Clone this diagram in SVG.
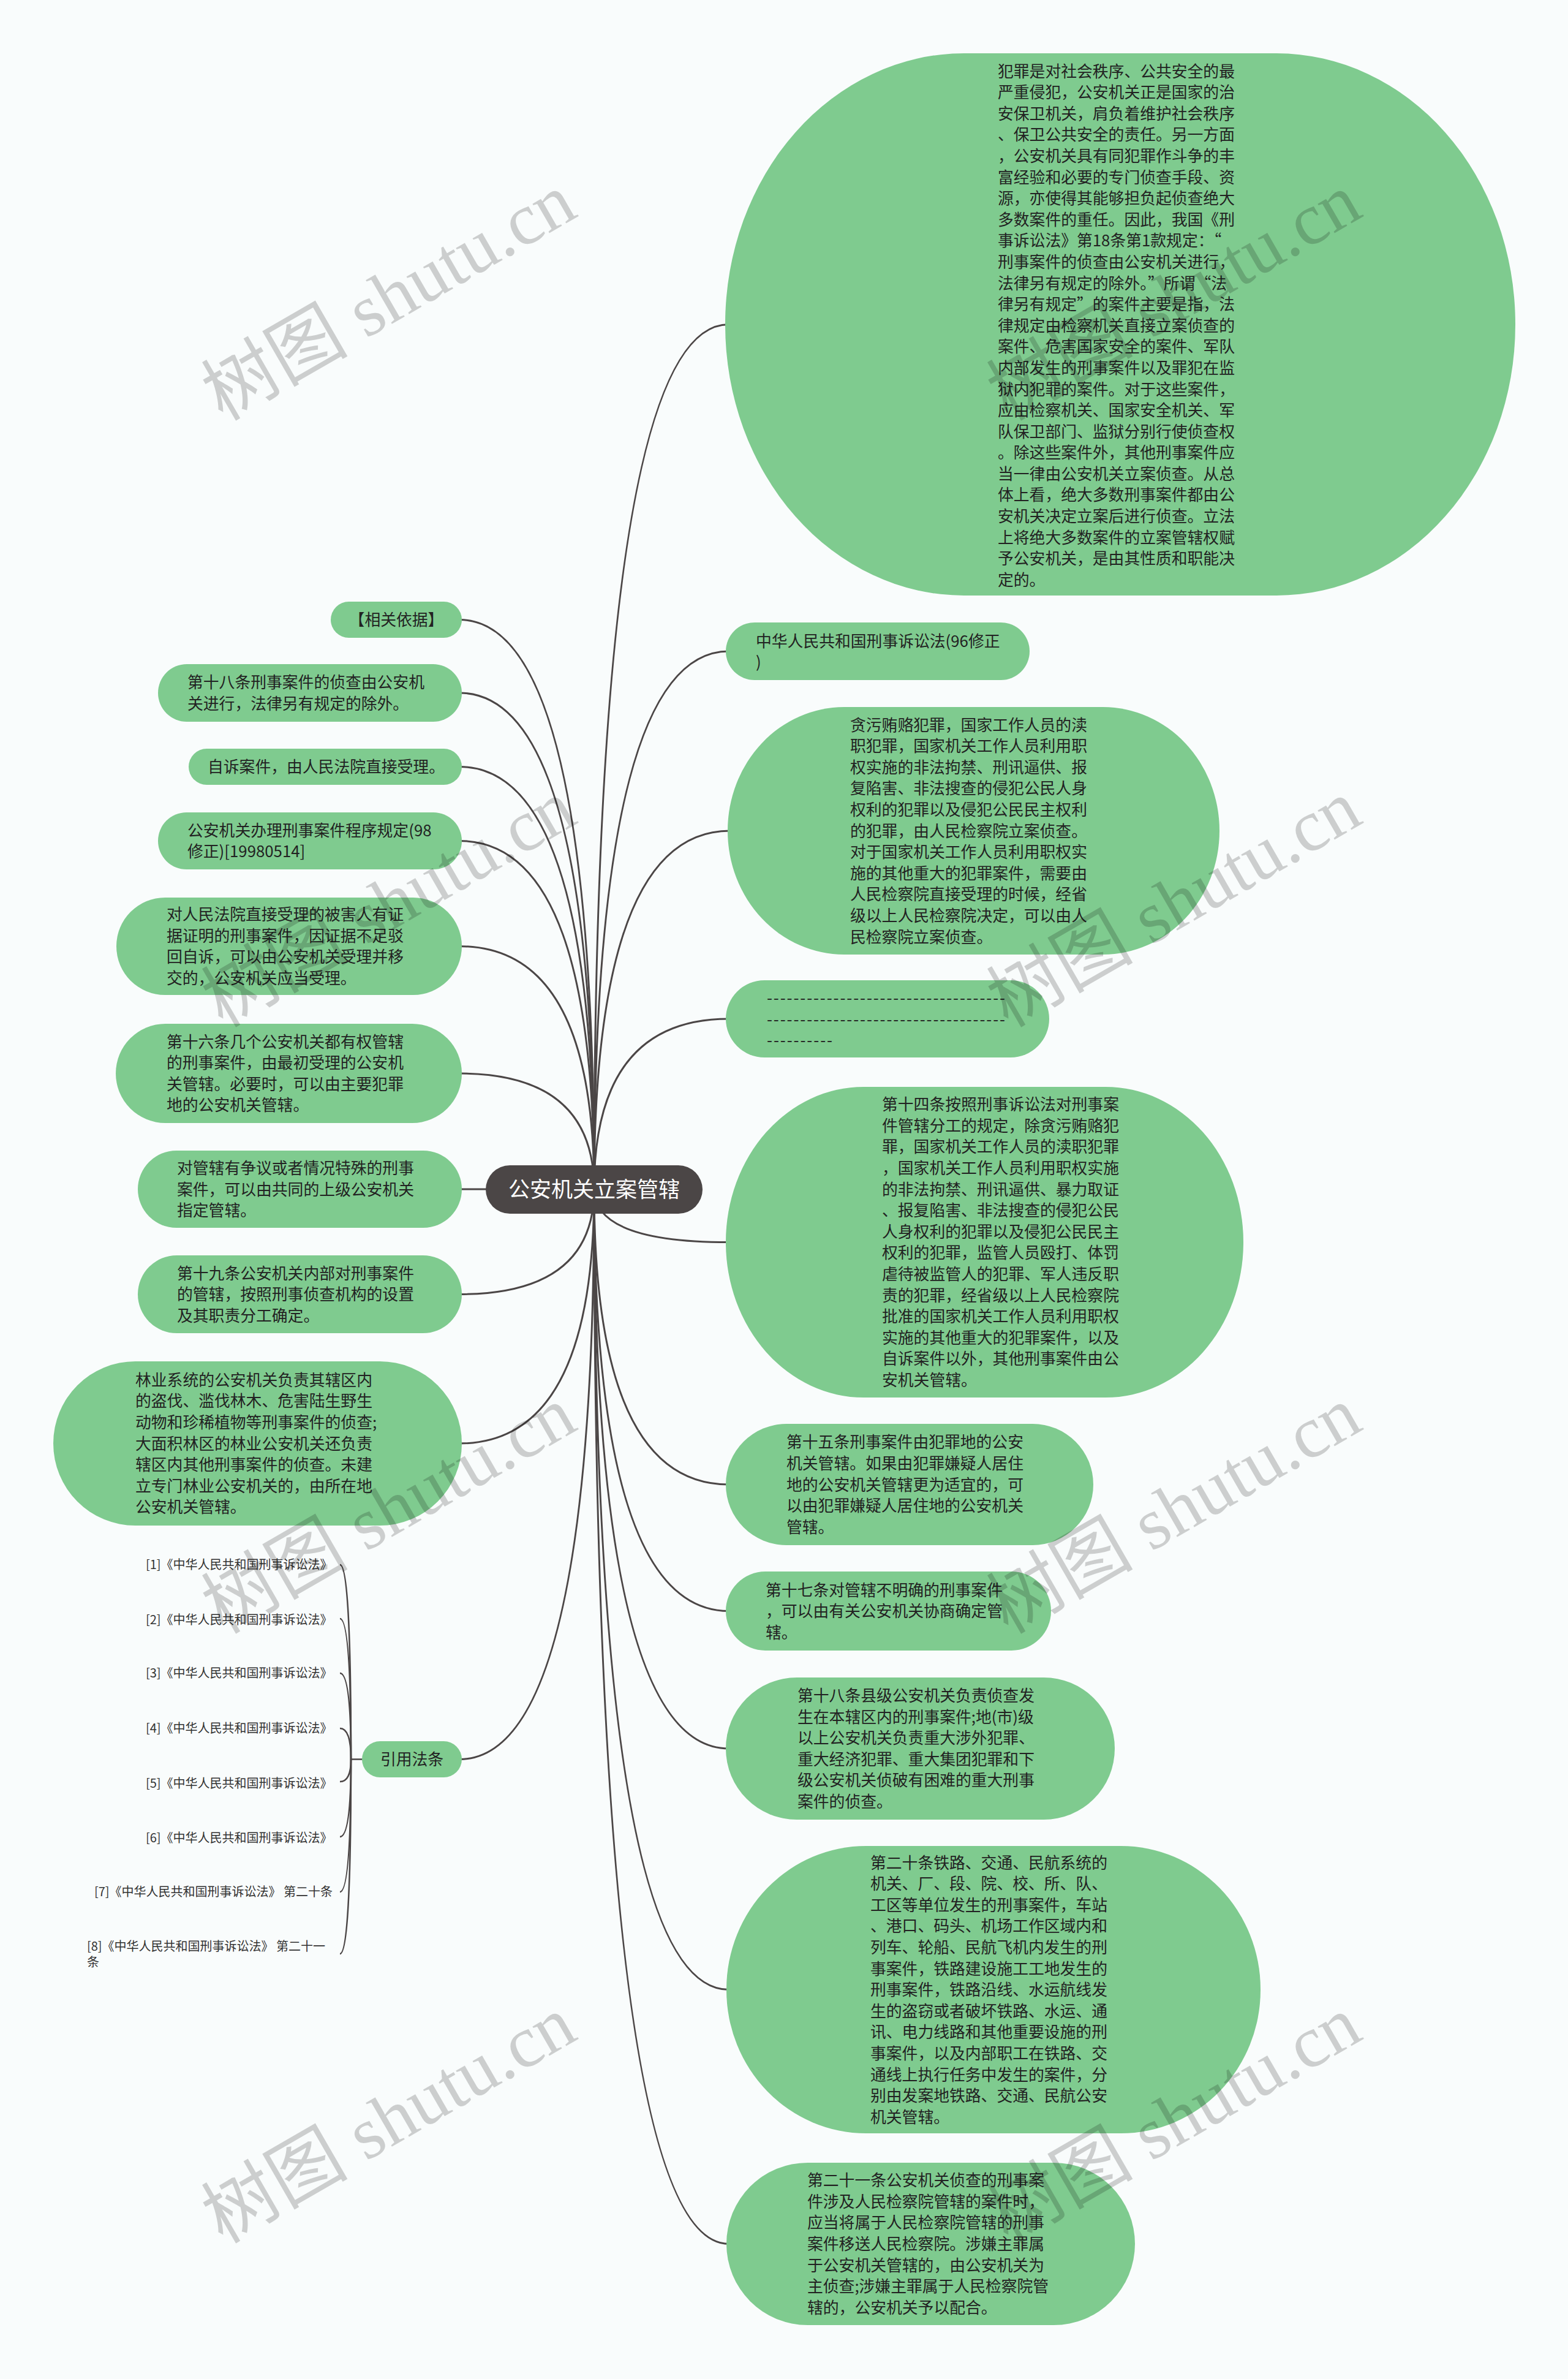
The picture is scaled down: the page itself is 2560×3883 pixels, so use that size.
<svg xmlns="http://www.w3.org/2000/svg" width="2560" height="3883" viewBox="0 0 2560 3883">
<style>
.bg{fill:#f9fcfc}
.n{fill:#7fcb8f}
.root{fill:#4b4646}
.t{font-family:"Noto Sans CJK SC","Noto Sans",sans-serif;font-size:25.8px;fill:#222}
.tc{font-family:"Noto Sans CJK SC","Noto Sans",sans-serif;font-size:25.8px;fill:#222;text-anchor:middle}
.tr{font-family:"Noto Sans CJK SC","Noto Sans",sans-serif;font-size:35px;fill:#ffffff;text-anchor:middle}
.ts{font-family:"Noto Sans CJK SC","Noto Sans",sans-serif;font-size:20px;fill:#333}
.c{fill:none;stroke:#4b4646;stroke-width:3}
.c2{fill:none;stroke:#4b4646;stroke-width:2.5}
.wm{font-family:"Liberation Serif","Noto Sans CJK SC",serif;font-size:120px;fill:#000;fill-opacity:0.18;text-anchor:middle}
</style>
<rect class="bg" x="0" y="0" width="2560" height="3883"/>
<g id="connectors">
<path class="c" d="M970,1941 Q970,529.5 1190,529.5"/>
<path class="c" d="M970,1941 Q970,1063 1190,1063"/>
<path class="c" d="M970,1941 Q970,1356 1192,1356"/>
<path class="c" d="M970,1941 Q970,1663 1190,1663"/>
<path class="c" d="M970,1941 Q970,2027.5 1190,2027.5"/>
<path class="c" d="M970,1941 Q970,2423 1190,2423"/>
<path class="c" d="M970,1941 Q970,2629.5 1190,2629.5"/>
<path class="c" d="M970,1941 Q970,2854 1190,2854"/>
<path class="c" d="M970,1941 Q970,3247.5 1190,3247.5"/>
<path class="c" d="M970,1941 Q970,3662.5 1190,3662.5"/>
<path class="c" d="M970,1941 Q970,1011.5 750,1011.5"/>
<path class="c" d="M970,1941 Q970,1131 750,1131"/>
<path class="c" d="M970,1941 Q970,1251.5 750,1251.5"/>
<path class="c" d="M970,1941 Q970,1372.5 750,1372.5"/>
<path class="c" d="M970,1941 Q970,1544.5 750,1544.5"/>
<path class="c" d="M970,1941 Q970,1752 750,1752"/>
<path class="c" d="M970,1941 L750,1941"/>
<path class="c" d="M970,1941 Q970,2112.5 750,2112.5"/>
<path class="c" d="M970,1941 Q970,2356 750,2356"/>
<path class="c" d="M970,1941 Q970,2871.5 750,2871.5"/>
<path class="c2" d="M595,2871.5 L573,2871.5 Q573,2554 555,2554"/>
<path class="c2" d="M573,2871.5 Q573,2642 555,2642"/>
<path class="c2" d="M573,2871.5 Q573,2731 555,2731"/>
<path class="c2" d="M573,2871.5 Q573,2821 555,2821"/>
<path class="c2" d="M573,2871.5 Q573,2908 555,2908"/>
<path class="c2" d="M573,2871.5 Q573,2998 555,2998"/>
<path class="c2" d="M573,2871.5 Q573,3088 555,3088"/>
<path class="c2" d="M573,2871.5 Q573,3189 555,3189"/>
</g>
<g id="root">
<rect class="root" x="793" y="1902" width="354" height="79" rx="39.5"/>
<text class="tr" x="970" y="1954">公安机关立案管辖</text>
</g>
<g id="r1">
<rect class="n" x="1184" y="87" width="1290" height="885" rx="390" ry="442"/>
<text class="t"><tspan x="1629" y="125.5">犯罪是对社会秩序、公共安全的最</tspan><tspan x="1629" dy="34.6">严重侵犯，公安机关正是国家的治</tspan><tspan x="1629" dy="34.6">安保卫机关，肩负着维护社会秩序</tspan><tspan x="1629" dy="34.6">、保卫公共安全的责任。另一方面</tspan><tspan x="1629" dy="34.6">，公安机关具有同犯罪作斗争的丰</tspan><tspan x="1629" dy="34.6">富经验和必要的专门侦查手段、资</tspan><tspan x="1629" dy="34.6">源，亦使得其能够担负起侦查绝大</tspan><tspan x="1629" dy="34.6">多数案件的重任。因此，我国《刑</tspan><tspan x="1629" dy="34.6">事诉讼法》第18条第1款规定：“</tspan><tspan x="1629" dy="34.6">刑事案件的侦查由公安机关进行，</tspan><tspan x="1629" dy="34.6">法律另有规定的除外。”所谓“法</tspan><tspan x="1629" dy="34.6">律另有规定”的案件主要是指，法</tspan><tspan x="1629" dy="34.6">律规定由检察机关直接立案侦查的</tspan><tspan x="1629" dy="34.6">案件、危害国家安全的案件、军队</tspan><tspan x="1629" dy="34.6">内部发生的刑事案件以及罪犯在监</tspan><tspan x="1629" dy="34.6">狱内犯罪的案件。对于这些案件，</tspan><tspan x="1629" dy="34.6">应由检察机关、国家安全机关、军</tspan><tspan x="1629" dy="34.6">队保卫部门、监狱分别行使侦查权</tspan><tspan x="1629" dy="34.6">。除这些案件外，其他刑事案件应</tspan><tspan x="1629" dy="34.6">当一律由公安机关立案侦查。从总</tspan><tspan x="1629" dy="34.6">体上看，绝大多数刑事案件都由公</tspan><tspan x="1629" dy="34.6">安机关决定立案后进行侦查。立法</tspan><tspan x="1629" dy="34.6">上将绝大多数案件的立案管辖权赋</tspan><tspan x="1629" dy="34.6">予公安机关，是由其性质和职能决</tspan><tspan x="1629" dy="34.6">定的。</tspan></text>
</g>
<g id="r2">
<rect class="n" x="1185" y="1016" width="496" height="94" rx="47"/>
<text class="t"><tspan x="1234" y="1055.5">中华人民共和国刑事诉讼法(96修正</tspan><tspan x="1234" dy="34.6">)</tspan></text>
</g>
<g id="r3">
<rect class="n" x="1188" y="1154" width="803" height="404" rx="190" ry="202"/>
<text class="t"><tspan x="1388" y="1192.5">贪污贿赂犯罪，国家工作人员的渎</tspan><tspan x="1388" dy="34.6">职犯罪，国家机关工作人员利用职</tspan><tspan x="1388" dy="34.6">权实施的非法拘禁、刑讯逼供、报</tspan><tspan x="1388" dy="34.6">复陷害、非法搜查的侵犯公民人身</tspan><tspan x="1388" dy="34.6">权利的犯罪以及侵犯公民民主权利</tspan><tspan x="1388" dy="34.6">的犯罪，由人民检察院立案侦查。</tspan><tspan x="1388" dy="34.6">对于国家机关工作人员利用职权实</tspan><tspan x="1388" dy="34.6">施的其他重大的犯罪案件，需要由</tspan><tspan x="1388" dy="34.6">人民检察院直接受理的时候，经省</tspan><tspan x="1388" dy="34.6">级以上人民检察院决定，可以由人</tspan><tspan x="1388" dy="34.6">民检察院立案侦查。</tspan></text>
</g>
<g id="r4">
<rect class="n" x="1185" y="1600" width="528" height="126" rx="63"/>
<text class="t"><tspan x="1252" y="1638" textLength="389" lengthAdjust="spacing">------------------------------------</tspan><tspan x="1252" y="1672.6" textLength="389" lengthAdjust="spacing">------------------------------------</tspan><tspan x="1252" y="1707.2" textLength="107" lengthAdjust="spacing">----------</tspan></text>
</g>
<g id="r5">
<rect class="n" x="1185" y="1774" width="845" height="507" rx="225" ry="253"/>
<text class="t"><tspan x="1440" y="1812.1">第十四条按照刑事诉讼法对刑事案</tspan><tspan x="1440" dy="34.6">件管辖分工的规定，除贪污贿赂犯</tspan><tspan x="1440" dy="34.6">罪，国家机关工作人员的渎职犯罪</tspan><tspan x="1440" dy="34.6">，国家机关工作人员利用职权实施</tspan><tspan x="1440" dy="34.6">的非法拘禁、刑讯逼供、暴力取证</tspan><tspan x="1440" dy="34.6">、报复陷害、非法搜查的侵犯公民</tspan><tspan x="1440" dy="34.6">人身权利的犯罪以及侵犯公民民主</tspan><tspan x="1440" dy="34.6">权利的犯罪，监管人员殴打、体罚</tspan><tspan x="1440" dy="34.6">虐待被监管人的犯罪、军人违反职</tspan><tspan x="1440" dy="34.6">责的犯罪，经省级以上人民检察院</tspan><tspan x="1440" dy="34.6">批准的国家机关工作人员利用职权</tspan><tspan x="1440" dy="34.6">实施的其他重大的犯罪案件，以及</tspan><tspan x="1440" dy="34.6">自诉案件以外，其他刑事案件由公</tspan><tspan x="1440" dy="34.6">安机关管辖。</tspan></text>
</g>
<g id="r6">
<rect class="n" x="1185" y="2324" width="600" height="198" rx="99"/>
<text class="t"><tspan x="1284" y="2363.3">第十五条刑事案件由犯罪地的公安</tspan><tspan x="1284" dy="34.6">机关管辖。如果由犯罪嫌疑人居住</tspan><tspan x="1284" dy="34.6">地的公安机关管辖更为适宜的，可</tspan><tspan x="1284" dy="34.6">以由犯罪嫌疑人居住地的公安机关</tspan><tspan x="1284" dy="34.6">管辖。</tspan></text>
</g>
<g id="r7">
<rect class="n" x="1185" y="2565" width="531" height="129" rx="64.5"/>
<text class="t"><tspan x="1250" y="2604.5">第十七条对管辖不明确的刑事案件</tspan><tspan x="1250" dy="34.6">，可以由有关公安机关协商确定管</tspan><tspan x="1250" dy="34.6">辖。</tspan></text>
</g>
<g id="r8">
<rect class="n" x="1185" y="2738" width="635" height="232" rx="116"/>
<text class="t"><tspan x="1302" y="2777">第十八条县级公安机关负责侦查发</tspan><tspan x="1302" dy="34.6">生在本辖区内的刑事案件;地(市)级</tspan><tspan x="1302" dy="34.6">以上公安机关负责重大涉外犯罪、</tspan><tspan x="1302" dy="34.6">重大经济犯罪、重大集团犯罪和下</tspan><tspan x="1302" dy="34.6">级公安机关侦破有困难的重大刑事</tspan><tspan x="1302" dy="34.6">案件的侦查。</tspan></text>
</g>
<g id="r9">
<rect class="n" x="1186" y="3013" width="872" height="469" rx="228" ry="234"/>
<text class="t"><tspan x="1421" y="3049.5">第二十条铁路、交通、民航系统的</tspan><tspan x="1421" dy="34.6">机关、厂、段、院、校、所、队、</tspan><tspan x="1421" dy="34.6">工区等单位发生的刑事案件，车站</tspan><tspan x="1421" dy="34.6">、港口、码头、机场工作区域内和</tspan><tspan x="1421" dy="34.6">列车、轮船、民航飞机内发生的刑</tspan><tspan x="1421" dy="34.6">事案件，铁路建设施工工地发生的</tspan><tspan x="1421" dy="34.6">刑事案件，铁路沿线、水运航线发</tspan><tspan x="1421" dy="34.6">生的盗窃或者破坏铁路、水运、通</tspan><tspan x="1421" dy="34.6">讯、电力线路和其他重要设施的刑</tspan><tspan x="1421" dy="34.6">事案件，以及内部职工在铁路、交</tspan><tspan x="1421" dy="34.6">通线上执行任务中发生的案件，分</tspan><tspan x="1421" dy="34.6">别由发案地铁路、交通、民航公安</tspan><tspan x="1421" dy="34.6">机关管辖。</tspan></text>
</g>
<g id="r10">
<rect class="n" x="1186" y="3530" width="667" height="265" rx="132.5"/>
<text class="t"><tspan x="1318" y="3568.2">第二十一条公安机关侦查的刑事案</tspan><tspan x="1318" dy="34.6">件涉及人民检察院管辖的案件时，</tspan><tspan x="1318" dy="34.6">应当将属于人民检察院管辖的刑事</tspan><tspan x="1318" dy="34.6">案件移送人民检察院。涉嫌主罪属</tspan><tspan x="1318" dy="34.6">于公安机关管辖的，由公安机关为</tspan><tspan x="1318" dy="34.6">主侦查;涉嫌主罪属于人民检察院管</tspan><tspan x="1318" dy="34.6">辖的，公安机关予以配合。</tspan></text>
</g>
<g id="l1">
<rect class="n" x="540" y="982" width="214" height="59" rx="29.5"/>
<text class="tc" x="647" y="1021">【相关依据】</text>
</g>
<g id="l2">
<rect class="n" x="258" y="1084" width="496" height="94" rx="47"/>
<text class="t"><tspan x="306" y="1123.2">第十八条刑事案件的侦查由公安机</tspan><tspan x="306" dy="34.6">关进行，法律另有规定的除外。</tspan></text>
</g>
<g id="l3">
<rect class="n" x="308" y="1222" width="446" height="59" rx="29.5"/>
<text class="t" x="339" y="1261">自诉案件，由人民法院直接受理。</text>
</g>
<g id="l4">
<rect class="n" x="258" y="1326" width="496" height="93" rx="46.5"/>
<text class="t"><tspan x="306" y="1364.7">公安机关办理刑事案件程序规定(98</tspan><tspan x="306" dy="34.6">修正)[19980514]</tspan></text>
</g>
<g id="l5">
<rect class="n" x="190" y="1465" width="564" height="159" rx="79.5"/>
<text class="t"><tspan x="272" y="1502.1">对人民法院直接受理的被害人有证</tspan><tspan x="272" dy="34.6">据证明的刑事案件，因证据不足驳</tspan><tspan x="272" dy="34.6">回自诉，可以由公安机关受理并移</tspan><tspan x="272" dy="34.6">交的，公安机关应当受理。</tspan></text>
</g>
<g id="l6">
<rect class="n" x="189" y="1671" width="565" height="162" rx="81"/>
<text class="t"><tspan x="272" y="1709.5">第十六条几个公安机关都有权管辖</tspan><tspan x="272" dy="34.6">的刑事案件，由最初受理的公安机</tspan><tspan x="272" dy="34.6">关管辖。必要时，可以由主要犯罪</tspan><tspan x="272" dy="34.6">地的公安机关管辖。</tspan></text>
</g>
<g id="l7">
<rect class="n" x="225" y="1878" width="529" height="126" rx="63"/>
<text class="t"><tspan x="289" y="1915.9">对管辖有争议或者情况特殊的刑事</tspan><tspan x="289" dy="34.6">案件，可以由共同的上级公安机关</tspan><tspan x="289" dy="34.6">指定管辖。</tspan></text>
</g>
<g id="l8">
<rect class="n" x="225" y="2049" width="529" height="127" rx="63.5"/>
<text class="t"><tspan x="289" y="2087.5">第十九条公安机关内部对刑事案件</tspan><tspan x="289" dy="34.6">的管辖，按照刑事侦查机构的设置</tspan><tspan x="289" dy="34.6">及其职责分工确定。</tspan></text>
</g>
<g id="l9">
<rect class="n" x="87" y="2222" width="667" height="268" rx="134"/>
<text class="t"><tspan x="221" y="2261.7">林业系统的公安机关负责其辖区内</tspan><tspan x="221" dy="34.6">的盗伐、滥伐林木、危害陆生野生</tspan><tspan x="221" dy="34.6">动物和珍稀植物等刑事案件的侦查;</tspan><tspan x="221" dy="34.6">大面积林区的林业公安机关还负责</tspan><tspan x="221" dy="34.6">辖区内其他刑事案件的侦查。未建</tspan><tspan x="221" dy="34.6">立专门林业公安机关的，由所在地</tspan><tspan x="221" dy="34.6">公安机关管辖。</tspan></text>
</g>
<g id="l10">
<rect class="n" x="591" y="2842" width="163" height="59" rx="29.5"/>
<text class="tc" x="672.5" y="2881">引用法条</text>
</g>
<g id="cite1"><text class="ts" x="238" y="2561.4">[1]《中华人民共和国刑事诉讼法》</text></g>
<g id="cite2"><text class="ts" x="238" y="2651.4">[2]《中华人民共和国刑事诉讼法》</text></g>
<g id="cite3"><text class="ts" x="238" y="2738.4">[3]《中华人民共和国刑事诉讼法》</text></g>
<g id="cite4"><text class="ts" x="238" y="2828.4">[4]《中华人民共和国刑事诉讼法》</text></g>
<g id="cite5"><text class="ts" x="238" y="2918.4">[5]《中华人民共和国刑事诉讼法》</text></g>
<g id="cite6"><text class="ts" x="238" y="3007.4">[6]《中华人民共和国刑事诉讼法》</text></g>
<g id="cite7"><text class="ts" x="154" y="3095.4">[7]《中华人民共和国刑事诉讼法》 第二十条</text></g>
<g id="cite8"><text class="ts"><tspan x="142" y="3184.4">[8]《中华人民共和国刑事诉讼法》 第二十一</tspan><tspan x="142" dy="26">条</tspan></text></g>
<g id="watermarks">
<text class="wm" transform="translate(655,520) rotate(-30)">树图 shutu.cn</text>
<text class="wm" transform="translate(1937,520) rotate(-30)">树图 shutu.cn</text>
<text class="wm" transform="translate(655,1510) rotate(-30)">树图 shutu.cn</text>
<text class="wm" transform="translate(1937,1510) rotate(-30)">树图 shutu.cn</text>
<text class="wm" transform="translate(655,2500) rotate(-30)">树图 shutu.cn</text>
<text class="wm" transform="translate(1937,2500) rotate(-30)">树图 shutu.cn</text>
<text class="wm" transform="translate(655,3495) rotate(-30)">树图 shutu.cn</text>
<text class="wm" transform="translate(1937,3495) rotate(-30)">树图 shutu.cn</text>
</g>
</svg>
